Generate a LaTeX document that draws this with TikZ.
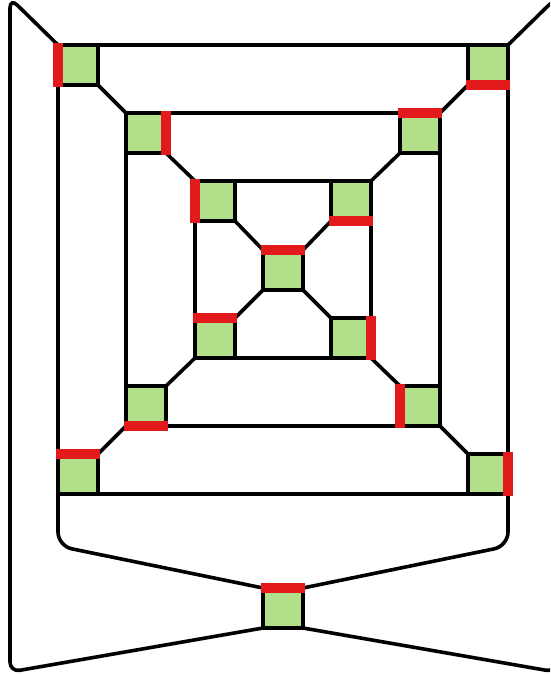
\documentclass[tikz,border=0pt]{standalone}
\usepackage{tikz}
\definecolor{boxgreen}{RGB}{178,223,138}
\definecolor{barred}{RGB}{227,26,28}
\begin{document}
\begin{tikzpicture}[x=1pt,y=-1pt,line width=3.8pt,
  cell/.style={draw=black,fill=boxgreen,minimum size=40pt,inner sep=0pt,outer sep=0pt,line width=3.8pt},
  bar/.style={draw=barred,line width=10pt,shorten <=-2pt,shorten >=-2pt},
  wire/.style={draw=black,line width=3.6pt,rounded corners=10pt}]
\useasboundingbox (0,0) rectangle (550,675);
\clip (0,0) rectangle (550,675);
% outer ring
\node[cell] (otl) at (78,65) {};
\node[cell] (otr) at (488,65) {};
\node[cell] (obl) at (78,474) {};
\node[cell] (obr) at (488,474) {};
% middle ring
\node[cell] (mtl) at (146,133) {};
\node[cell] (mtr) at (420,133) {};
\node[cell] (mbl) at (146,406) {};
\node[cell] (mbr) at (420,406) {};
% inner ring
\node[cell] (itl) at (215,201) {};
\node[cell] (itr) at (351,201) {};
\node[cell] (ibl) at (215,338) {};
\node[cell] (ibr) at (351,338) {};
% centre and bottom
\node[cell] (ctr) at (283,270) {};
\node[cell] (bot) at (283,608) {};
\coordinate (lt) at (10,-2);
\coordinate (lb) at (10,672);
\coordinate (rt) at (556,-2);
\coordinate (rb) at (556,672);
\coordinate (ll) at (58,546);
\coordinate (rr) at (508,546);
% rings
\draw[wire] (otl.north east) -- (otr.north west);
\draw[wire] (otl.south west) -- (obl.north west);
\draw[wire] (otr.south east) -- (obr.north east);
\draw[wire] (obl.south east) -- (obr.south west);
\draw[wire] (mtl.north east) -- (mtr.north west);
\draw[wire] (mtl.south west) -- (mbl.north west);
\draw[wire] (mtr.south east) -- (mbr.north east);
\draw[wire] (mbl.south east) -- (mbr.south west);
\draw[wire] (itl.north east) -- (itr.north west);
\draw[wire] (itl.south west) -- (ibl.north west);
\draw[wire] (itr.south east) -- (ibr.north east);
\draw[wire] (ibl.south east) -- (ibr.south west);
% diagonals
\draw[wire] (otl.south east) -- (mtl.north west);
\draw[wire] (otr.south west) -- (mtr.north east);
\draw[wire] (obl.north east) -- (mbl.south west);
\draw[wire] (obr.north west) -- (mbr.south east);
\draw[wire] (mtl.south east) -- (itl.north west);
\draw[wire] (mtr.south west) -- (itr.north east);
\draw[wire] (mbl.north east) -- (ibl.south west);
\draw[wire] (mbr.north west) -- (ibr.south east);
\draw[wire] (itl.south east) -- (ctr.north west);
\draw[wire] (itr.south west) -- (ctr.north east);
\draw[wire] (ibl.north east) -- (ctr.south west);
\draw[wire] (ibr.north west) -- (ctr.south east);
% loops to the bottom cell
\draw[wire] (otl.north west) -- (lt) -- (lb) -- (bot.south west);
\draw[wire] (otr.north east) -- (rt) -- (rb) -- (bot.south east);
\draw[wire,rounded corners=14pt] (obl.south west) -- (ll) -- (bot.north west);
\draw[wire,rounded corners=14pt] (obr.south east) -- (rr) -- (bot.north east);
% red bars
\draw[bar] (otl.north west) -- (otl.south west);
\draw[bar] (otr.south west) -- (otr.south east);
\draw[bar] (obl.north west) -- (obl.north east);
\draw[bar] (obr.north east) -- (obr.south east);
\draw[bar] (mtl.north east) -- (mtl.south east);
\draw[bar] (mtr.north west) -- (mtr.north east);
\draw[bar] (mbl.south west) -- (mbl.south east);
\draw[bar] (mbr.north west) -- (mbr.south west);
\draw[bar] (itl.north west) -- (itl.south west);
\draw[bar] (itr.south west) -- (itr.south east);
\draw[bar] (ibl.north west) -- (ibl.north east);
\draw[bar] (ibr.north east) -- (ibr.south east);
\draw[bar] (ctr.north west) -- (ctr.north east);
\draw[bar] (bot.north west) -- (bot.north east);
\end{tikzpicture}
\end{document}
